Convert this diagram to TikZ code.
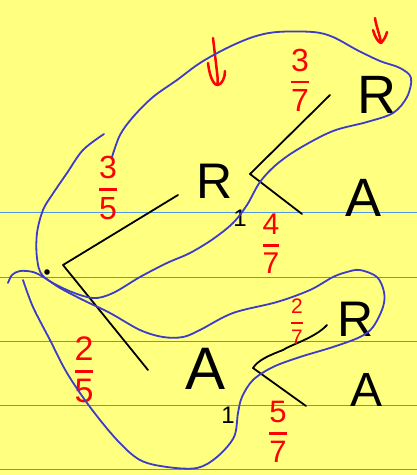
\documentclass[tikz,border=0pt]{standalone}
\usepackage{amsmath}
\usepackage{fontspec}
\setmainfont{Liberation Sans}
\newcommand{\redfrac}[2]{$\genfrac{}{}{2.2pt}{0}{\mbox{#1}}{\mbox{#2}}$}
\begin{document}
\begin{tikzpicture}[x=1pt,y=-1pt,
  blackpen/.style={draw=black,line width=1.8pt,line cap=round,line join=round},
  redpen/.style={draw=red,line width=2.5pt,line cap=round,line join=round},
  bluepen/.style={draw=loopblue,line width=1.8pt,line cap=round,line join=round},
  rule/.style={draw=ruleblue,line width=1.6pt},
  letter/.style={inner sep=0pt,font=\fontsize{54}{54}\selectfont},
  subnum/.style={inner sep=0pt,font=\fontsize{24}{24}\selectfont},
  fracnode/.style={inner sep=0pt,text=red}]
\definecolor{paper}{RGB}{255,255,128}
\definecolor{ruleblue}{RGB}{80,150,235}
\definecolor{loopblue}{RGB}{60,60,200}
\fill[paper] (0,0) rectangle (417,475);
\useasboundingbox (0,0) rectangle (417,475);
% ruled lines
\foreach \yy in {212.5,277.5,341.5,405.5,469.5} \draw[rule] (0,\yy) -- (417,\yy);
% tree vertices
\coordinate (root) at (63,265);
\coordinate (rootUp) at (178,195);
\coordinate (rootDown) at (148,370);
\coordinate (vR) at (250,174);
\coordinate (vRup) at (330,95);
\coordinate (vRdown) at (302,214);
\coordinate (vA) at (253,368);
\coordinate (vAmid) at (283,350);
\coordinate (vAup) at (327,325);
\coordinate (vAdown) at (306,406);
\draw[blackpen] (rootUp) -- (root) -- (rootDown);
\draw[blackpen] (vRup) -- (vR) -- (vRdown);
\draw[blackpen] (vAup) .. controls (315,338) and (290,345) .. (vAmid) .. controls (270,355) and (258,360) .. (vA) -- (vAdown);
\fill[black] (47,272) circle (2.8);
% letters
\node[letter] (Rtop) at (377,95) {R};
\node[letter,font=\fontsize{50}{50}\selectfont] (R1) at (215,181) {R};
\node[subnum] (R1s) at (240,218) {1};
\node[letter] (Amid) at (364,198) {A};
\node[letter,font=\fontsize{60}{60}\selectfont] (A1) at (206,369) {A};
\node[subnum] (A1s) at (228,415) {1};
\node[letter,font=\fontsize{50}{50}\selectfont] (Rlow) at (356,319) {R};
\node[letter,font=\fontsize{48}{48}\selectfont] (Alow) at (367,390) {A};
% fractions
\node[fracnode,font=\fontsize{32}{32}\selectfont] (f37) at (300,80) {\redfrac{3}{7}};
\node[fracnode,font=\fontsize{32}{32}\selectfont] (f35) at (108,188) {\redfrac{3}{5}};
\node[fracnode,font=\fontsize{30}{30}\selectfont] (f47) at (271,244) {\redfrac{4}{7}};
\node[fracnode,font=\fontsize{21}{21}\selectfont] (f27) at (297,322) {\redfrac{2}{7}};
\node[fracnode,font=\fontsize{31}{31}\selectfont] (f57) at (278,432) {\redfrac{5}{7}};
\node[fracnode,font=\fontsize{34}{34}\selectfont] (f25) at (84,370) {\redfrac{2}{5}};
% red arrows
\draw[redpen] (213,38) -- (217,72) .. controls (218,80) and (218,84) .. (217,84);
\draw[redpen] (208,63) .. controls (210,80) and (215,86) .. (218,85) .. controls (222,84) and (225,78) .. (225,71);
\draw[redpen] (375,18) .. controls (376,26) and (380,35) .. (381,43);
\draw[redpen] (373,30) .. controls (375,37) and (378,42) .. (381,43) .. controls (384,40) and (386,36) .. (387,32);
% blue loops
\draw[bluepen] plot[smooth,tension=0.55] coordinates {(104,134) (83,150) (67,173) (52,195) (43,210) (37,233) (37,258) (43,276) (67,290) (93,298) (113,293) (140,277) (167,263) (190,253) (213,239) (233,223) (247,205) (260,182) (277,164) (300,148) (333,131) (367,122) (393,113) (407,97) (411,78) (400,68) (380,61) (357,50) (333,37) (313,32) (277,32) (253,37) (227,48) (200,63) (177,80) (153,97) (133,117) (120,135) (112,157)};
\draw[bluepen] plot[smooth,tension=0.55] coordinates {(8,283) (12,275) (20,271) (33,272) (45,278) (60,288) (83,300) (110,313) (140,330) (163,337) (183,337) (200,330) (233,313) (277,302) (310,290) (333,277) (347,272) (360,270) (377,277) (384,292) (383,307) (373,327) (360,337) (333,347) (300,357) (273,367) (253,380) (242,397) (238,413) (234,437) (217,457) (197,468) (167,467) (140,460) (117,440) (90,407) (67,373) (50,340) (33,307) (23,280)};
\end{tikzpicture}
\end{document}
